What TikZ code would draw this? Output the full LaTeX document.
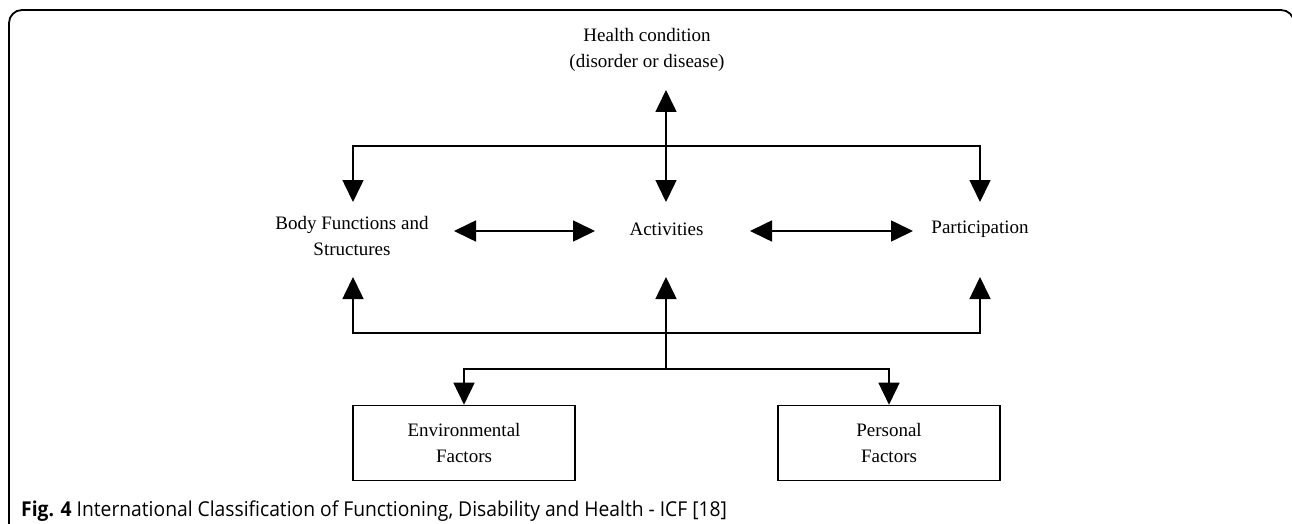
\documentclass[tikz,border=0pt]{standalone}
\usepackage{fontspec}
\setmainfont{Liberation Serif}
\newfontfamily\capfont{Open Sans}
\usetikzlibrary{arrows.meta}
\begin{document}
\begin{tikzpicture}[x=1pt,y=-1pt,
  conn/.style={line width=1.6pt, draw=black},
  tip/.style={conn, -{Triangle[length=22pt,width=21pt]}},
  dtip/.style={conn, {Triangle[length=22pt,width=21pt]}-{Triangle[length=22pt,width=21pt]}},
  lbl/.style={font=\fontsize{19}{26}\selectfont, align=center, inner sep=0pt},
  factor/.style={lbl, draw, line width=1.6pt, minimum width=222pt, minimum height=75pt}]
\useasboundingbox (0,0) rectangle (1292,524);
% frame
\draw[line width=1.8pt, rounded corners=13pt] (9,530) -- (9,10) -- (1294,10) -- (1294,530);
% text nodes
\node[lbl] (health) at (647,50) {Health condition\\(disorder or disease)};
\node[lbl] (body) at (352,236) {Body Functions and\\Structures};
\node[lbl] (act) at (666.5,229) {Activities};
\node[lbl] (part) at (980,229) {Participation};
\node[factor] (env) at (464,443) {Environmental\\Factors};
\node[factor] (pers) at (889,443) {Personal\\Factors};
% connector coordinates
\coordinate (hup) at (666,90);
\coordinate (hdown) at (666,202);
\coordinate (topbar) at (666,146);
\coordinate (bodyin) at (353,202);
\coordinate (partin) at (980,202);
\coordinate (bodyout) at (353,277);
\coordinate (actout) at (666,277);
\coordinate (partout) at (980,277);
\coordinate (botbar) at (666,333);
\coordinate (branch) at (666,369);
\coordinate (ba1) at (454,231);
\coordinate (ba2) at (595,231);
\coordinate (ap1) at (750,231);
\coordinate (ap2) at (913,231);
% connectors
\draw[dtip] (hup) -- (hdown);
\draw[tip] (topbar) -| (bodyin);
\draw[tip] (topbar) -| (partin);
\draw[dtip] (ba1) -- (ba2);
\draw[dtip] (ap1) -- (ap2);
\draw[tip] (botbar) -| (bodyout);
\draw[tip] (botbar) -- (actout);
\draw[tip] (botbar) -| (partout);
\draw[conn] (botbar) -- (branch);
\draw[tip] (branch) -| (env.north);
\draw[tip] (branch) -| (pers.north);
% caption
\node[anchor=west, inner sep=0pt, font=\capfont\fontsize{20.5}{24}\selectfont] (cap) at (21,511)
  {\scalebox{0.94}[1]{\textbf{Fig. 4} International Classification of Functioning, Disability and Health - ICF [18]}};
\end{tikzpicture}
\end{document}
